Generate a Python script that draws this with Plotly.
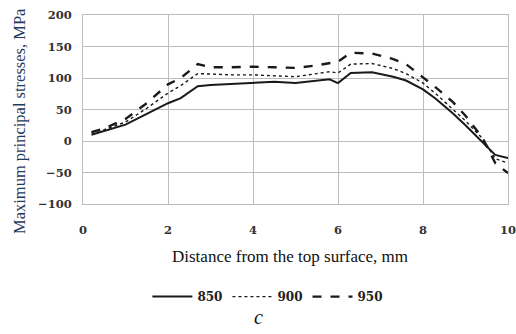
import plotly.graph_objects as go

distance = [0.2, 0.5, 1.0, 1.5, 2.0, 2.3, 2.7, 3.0, 3.5, 4.0, 4.5, 5.0, 5.5, 5.8, 6.0,
            6.3, 6.8, 7.3, 7.6, 8.0, 8.3, 8.7, 9.0, 9.4, 9.7, 10.0]
s850 = [10, 16, 26, 43, 60, 68, 87, 89, 91, 93, 94, 92, 96, 98, 92,
        108, 109, 102, 96, 82, 67, 44, 25, -2, -22, -27]
s900 = [13, 18, 30, 52, 76, 88, 107, 106, 105, 105, 104, 102, 107, 110, 108,
        122, 123, 115, 107, 92, 75, 51, 32, 4, -28, -35]
s950 = [14, 20, 35, 60, 90, 100, 122, 117, 117, 118, 117, 116, 120, 124, 126,
        140, 139, 130, 122, 101, 85, 62, 40, 5, -35, -51]
series_names = ["850", "900", "950"]
x_ticks = [0, 2, 4, 6, 8, 10]
y_ticks = [-100, -50, 0, 50, 100, 150, 200]

fig = go.Figure()
styles = [("solid", 2.0), ("dot", 1.4), ("dash", 2.4)]
for name, vals, (dash, w) in zip(series_names, [s850, s900, s950], styles):
    fig.add_trace(go.Scatter(x=distance, y=vals, mode="lines", name=name,
                             line=dict(color="#1a1a1a", width=w, dash=dash)))

grid = "#BDBDBD"
tickfont = dict(family="DejaVu Serif", size=11.5, color="#333333", weight="bold")
fig.update_layout(
    width=516, height=334,
    margin=dict(l=83, r=8, t=15, b=130, autoexpand=False),
    paper_bgcolor="white", plot_bgcolor="white",
    showlegend=True,
    legend=dict(orientation="h", x=0.435, xanchor="center", y=-0.49, yanchor="middle",
                font=dict(family="DejaVu Serif", size=12, color="#222222", weight="bold"),
                itemwidth=40, traceorder="normal"),
    xaxis=dict(range=[0, 10], tickvals=x_ticks, showgrid=True, gridcolor=grid, gridwidth=1,
               showline=True, linecolor=grid, mirror=True, zeroline=False, automargin=False,
               tickfont=tickfont, ticks="", ticklabelstandoff=15, ticklabeloverflow="allow"),
    yaxis=dict(range=[-100, 200], tickvals=y_ticks, showgrid=True, gridcolor=grid, gridwidth=1,
               showline=True, linecolor=grid, mirror=True, zeroline=False, automargin=False,
               tickfont=tickfont, ticks="", ticklabelstandoff=8, ticklabeloverflow="allow"),
    annotations=[
        dict(text="Maximum principal stresses, MPa", textangle=-90,
             xref="paper", yref="paper", x=0, y=0.439, xshift=-64,
             xanchor="center", yanchor="middle", showarrow=False,
             font=dict(family="Liberation Serif", size=16.5, color="#1F3A5F")),
        dict(text="Distance from the top surface, mm",
             xref="paper", yref="paper", x=0.487, y=-0.28,
             xanchor="center", yanchor="middle", showarrow=False,
             font=dict(family="Liberation Serif", size=17, color="#111111")),
        dict(text="<i>c</i>",
             xref="paper", yref="paper", x=0.412, y=-0.598,
             xanchor="center", yanchor="middle", showarrow=False,
             font=dict(family="Liberation Serif", size=20, color="#111111")),
    ],
)

fig.write_html(
    "out.html",
    config={"displayModeBar": False},
    post_script="document.body.style.margin='0';document.body.style.overflow='hidden';",
)
